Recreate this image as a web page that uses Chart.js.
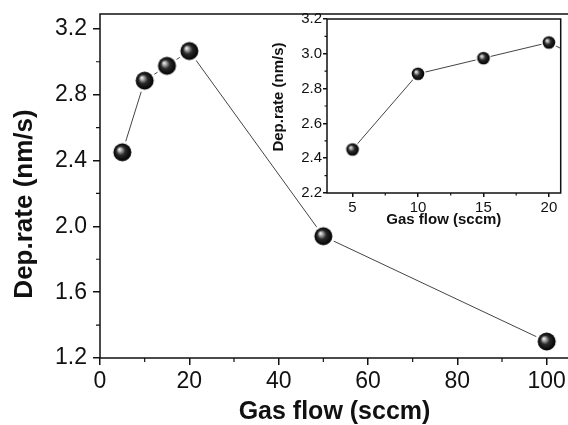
<!DOCTYPE html>
<html>
<head>
<meta charset="utf-8">
<script src="https://cdn.jsdelivr.net/npm/chart.js@4/dist/chart.umd.min.js"></script>
<style>
html,body{margin:0;padding:0;background:#fff;overflow:hidden;width:568px;height:425px;}
#wrap{position:relative;width:568px;height:425px;overflow:hidden;}
#main{position:absolute;left:0;top:0;}
#inset{position:absolute;left:260px;top:0;}
</style>
</head>
<body>
<div id="wrap">
<canvas id="main" width="580" height="425"></canvas>
<canvas id="inset" width="308" height="240"></canvas>
</div>
<script>
// ---- data ----
const gasFlow = [5, 10, 15, 20, 50, 100];
const depRate = [2.45, 2.885, 2.975, 3.065, 1.94, 1.30];
const insetFlow = [5, 10, 15, 20, 50];
const insetRate = [2.45, 2.885, 2.975, 3.065, 1.94];

const mainXTicks = [0, 20, 40, 60, 80, 100];
const mainXMinor = [10, 30, 50, 70, 90];
const mainYTicks = [1.2, 1.6, 2.0, 2.4, 2.8, 3.2];
const mainYMinor = [1.4, 1.8, 2.2, 2.6, 3.0];
const insetXTicks = [5, 10, 15, 20];
const insetXMinor = [7.5, 12.5, 17.5];
const insetYTicks = [2.2, 2.4, 2.6, 2.8, 3.0, 3.2];
const insetYMinor = [2.3, 2.5, 2.7, 2.9, 3.1];

const xTitle = 'Gas flow (sccm)';
const yTitle = 'Dep.rate (nm/s)';
const FONT = 'Liberation Sans, Arial, sans-serif';

function sphere(r, ring) {
  const size = Math.ceil(2 * (r + ring));
  const c = document.createElement('canvas');
  c.width = c.height = size;
  const g = c.getContext('2d');
  const cx = size / 2;
  g.fillStyle = '#fff';
  g.beginPath(); g.arc(cx, cx, r + ring, 0, Math.PI * 2); g.fill();
  const grad = g.createRadialGradient(cx - 0.35 * r, cx - 0.35 * r, 0, cx, cx, r);
  grad.addColorStop(0, '#ffffff');
  grad.addColorStop(0.2, '#b0b0b0');
  grad.addColorStop(0.5, '#2a2a2a');
  grad.addColorStop(1, '#000');
  g.fillStyle = grad;
  g.beginPath(); g.arc(cx, cx, r, 0, Math.PI * 2); g.fill();
  return c;
}

function framePlugin(cfg) {
  return {
    id: 'frame',
    afterDraw(chart) {
      const {ctx, chartArea: a, scales} = chart;
      ctx.save();
      ctx.strokeStyle = '#111';
      ctx.lineWidth = 1.5;
      ctx.beginPath();
      ctx.rect(a.left, a.top, a.right - a.left, a.bottom - a.top);
      ctx.stroke();
      ctx.lineWidth = 1.2;
      ctx.beginPath();
      cfg.xMinor.forEach(v => {
        const px = scales.x.getPixelForValue(v);
        ctx.moveTo(px, a.bottom); ctx.lineTo(px, a.bottom + cfg.minorLen);
      });
      cfg.yMinor.forEach(v => {
        const py = scales.y.getPixelForValue(v);
        ctx.moveTo(a.left, py); ctx.lineTo(a.left - cfg.minorLen, py);
      });
      ctx.stroke();
      // y-axis title
      ctx.fillStyle = '#111';
      ctx.font = 'bold ' + cfg.yTitleSize + 'px ' + FONT;
      ctx.textAlign = 'center';
      ctx.textBaseline = 'middle';
      ctx.translate(cfg.yTitleX, (a.top + a.bottom) / 2 + cfg.yTitleShift);
      ctx.rotate(-Math.PI / 2);
      ctx.fillText(yTitle, 0, 0);
      ctx.restore();
    }
  };
}

function makeChart(id, xs, ys, cfg) {
  const pts = xs.map((x, i) => ({x: x, y: ys[i]}));
  return new Chart(document.getElementById(id), {
    type: 'scatter',
    data: {
      datasets: [{
        data: pts,
        showLine: true,
        borderColor: '#444',
        borderWidth: 1,
        pointStyle: sphere(cfg.r, cfg.ring),
        pointRadius: cfg.r,
        pointHoverRadius: cfg.r
      }]
    },
    options: {
      responsive: false,
      animation: false,
      devicePixelRatio: 1,
      events: [],
      layout: {padding: cfg.pad},
      plugins: {legend: {display: false}, tooltip: {enabled: false}},
      scales: {
        x: {
          type: 'linear', min: cfg.xMin, max: cfg.xMax,
          border: {display: false},
          grid: {display: true, drawOnChartArea: false, drawTicks: true, tickLength: cfg.tickLen, color: '#111', lineWidth: 1.5},
          afterBuildTicks: s => { s.ticks = cfg.xTicks.map(v => ({value: v})); },
          afterFit: s => { s.height = cfg.xH; s.paddingLeft = 0; s.paddingRight = 0; },
          ticks: {color: '#111', padding: cfg.xPad, maxRotation: 0, autoSkip: false,
                  font: {family: FONT, size: cfg.tickSize},
                  callback: v => String(v)},
          title: {display: true, text: xTitle, color: '#111',
                  font: {family: FONT, size: cfg.xTitleSize, weight: 'bold', lineHeight: 1},
                  padding: {top: 0, bottom: cfg.xTitlePad}}
        },
        y: {
          type: 'linear', min: cfg.yMin, max: cfg.yMax,
          border: {display: false},
          grid: {display: true, drawOnChartArea: false, drawTicks: true, tickLength: cfg.tickLen, color: '#111', lineWidth: 1.5},
          afterBuildTicks: s => { s.ticks = cfg.yTicks.map(v => ({value: v})); },
          afterFit: s => { s.width = cfg.yW; s.paddingTop = 0; s.paddingBottom = 0; },
          ticks: {color: '#111', padding: cfg.yPad, autoSkip: false,
                  font: {family: FONT, size: cfg.tickSize},
                  callback: v => Number(v).toFixed(1)},
          title: {display: false}
        }
      }
    },
    plugins: [framePlugin(cfg)]
  });
}

makeChart('main', gasFlow, depRate, {
  r: 9, ring: 2.5,
  pad: {top: 14, right: 11, left: 0, bottom: 0},
  xMin: 0, xMax: 105, yMin: 1.2, yMax: 3.29,
  xTicks: mainXTicks, yTicks: mainYTicks, xMinor: mainXMinor, yMinor: mainYMinor,
  tickLen: 7, minorLen: 4, xH: 67, yW: 100, xPad: 3, yPad: 6,
  tickSize: 23, xTitleSize: 25, yTitleSize: 26, xTitlePad: 0, yTitleX: 25, yTitleShift: 18
});

makeChart('inset', insetFlow, insetRate, {
  r: 6.3, ring: 1.5,
  pad: {top: 19, right: 6, left: 0, bottom: 0},
  xMin: 3.05, xMax: 20.9, yMin: 2.2, yMax: 3.2,
  xTicks: insetXTicks, yTicks: insetYTicks, xMinor: insetXMinor, yMinor: insetYMinor,
  tickLen: 4, minorLen: 2.5, xH: 47, yW: 67, xPad: 2, yPad: 1,
  tickSize: 15, xTitleSize: 15, yTitleSize: 15, xTitlePad: 13, yTitleX: 19, yTitleShift: -9
});
</script>
</body>
</html>
